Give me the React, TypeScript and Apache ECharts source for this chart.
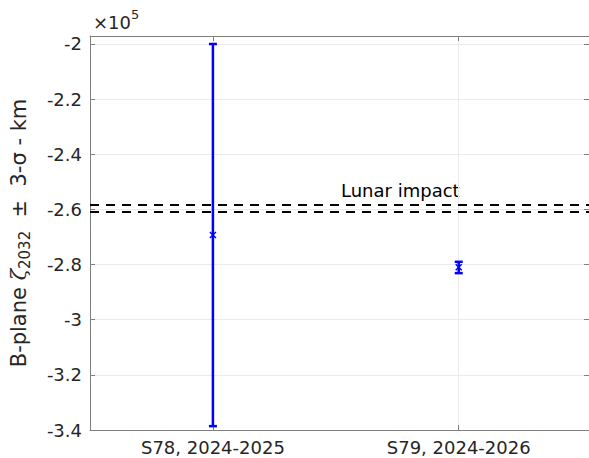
import React, { useEffect, useRef } from "react";
import * as echarts from "echarts";

const categories = ["S78, 2024-2025", "S79, 2024-2026"];
const centers = [-269300, -281000];
const lowers = [-338600, -283100];
const uppers = [-200000, -279000];
const impactLines = [-258200, -260700];
const yTicksMin = -340000;
const yTicksMax = -197100;
const yInterval = 20000;

const FONT = "DejaVu Sans";
const BLUE = "#0000ff";
const AXIS = "#808080";
const GRID = "#ebebeb";
const TXT = "#262626";

export default function App() {
  const ref = useRef<HTMLDivElement>(null);
  useEffect(() => {
    if (!ref.current) return;
    const chart = echarts.init(ref.current, undefined, { renderer: "svg" });
    const data = categories.map((c, i) => [i + 1, centers[i], lowers[i], uppers[i]]);
    const xCustom = categories.map((_, i) => i + 1);
    const yLabelFmt = (v: number) =>
      Math.abs(v % yInterval) > 1 ? "" : String(Number((v / 1e5).toFixed(1)));

    chart.setOption({
      animation: false,
      backgroundColor: "#ffffff",
      textStyle: { fontFamily: FONT },
      grid: { left: 90, right: 0, top: 36, bottom: 28 },
      xAxis: [
        {
          type: "value",
          min: 0.5,
          max: 2.53,
          axisLine: { show: true, lineStyle: { color: AXIS, width: 1 } },
          axisTick: { show: true, inside: true, length: 5, customValues: xCustom, lineStyle: { color: AXIS } },
          axisLabel: {
            customValues: xCustom,
            formatter: (v: number) => categories[Math.round(v) - 1] ?? "",
            color: TXT,
            fontSize: 18,
            fontFamily: FONT,
            margin: 8,
          },
          splitLine: { show: true, lineStyle: { color: GRID, width: 1 } },
        },
        {
          type: "value",
          position: "top",
          min: 0.5,
          max: 2.53,
          axisLine: { show: true, lineStyle: { color: AXIS, width: 1 } },
          axisTick: { show: true, inside: true, length: 5, customValues: xCustom, lineStyle: { color: AXIS } },
          axisLabel: { show: false },
          splitLine: { show: false },
        },
      ],
      yAxis: [
        {
          type: "value",
          min: yTicksMin,
          max: yTicksMax,
          interval: yInterval,
          axisLine: { show: true, lineStyle: { color: AXIS, width: 1 } },
          axisTick: { show: true, inside: true, length: 5, lineStyle: { color: AXIS } },
          axisLabel: { formatter: yLabelFmt, color: TXT, fontSize: 18, fontFamily: FONT, margin: 8, showMaxLabel: false },
          splitLine: { show: true, lineStyle: { color: GRID, width: 1 } },
          name: "{a|B-plane }{z|ζ}{s|2032}{a|  ±  3-σ - km}",
          nameLocation: "middle",
          nameGap: 58,
          nameTextStyle: {
            color: TXT,
            fontFamily: FONT,
            rich: {
              a: { fontSize: 21, fontFamily: FONT, color: TXT },
              z: { fontSize: 21, fontFamily: "DejaVu Serif", fontStyle: "italic", color: TXT },
              s: { fontSize: 15, fontFamily: FONT, color: TXT, padding: [12, 0, 0, 0] },
            },
          },
        },
        {
          type: "value",
          position: "right",
          min: yTicksMin,
          max: yTicksMax,
          interval: yInterval,
          axisLine: { show: true, lineStyle: { color: AXIS, width: 1 } },
          axisTick: { show: true, inside: true, length: 5, lineStyle: { color: AXIS } },
          axisLabel: { show: false },
          splitLine: { show: false },
        },
      ],
      graphic: [
        {
          type: "text",
          left: 93,
          top: 8,
          style: {
            text: "{a|×10}{b|5}",
            fill: TXT,
            rich: {
              a: { fontSize: 18, fontFamily: FONT, fill: TXT, padding: [6, 0, 0, 0] },
              b: { fontSize: 13, fontFamily: FONT, fill: TXT, padding: [0, 0, 10, 0] },
            },
          },
        },
        {
          type: "text",
          left: 341,
          top: 181,
          style: { text: "Lunar impact", fontSize: 18, fontFamily: FONT, fill: "#000" },
        },
      ],
      series: [
        {
          type: "line",
          data: [],
          xAxisIndex: 0,
          yAxisIndex: 0,
          markLine: {
            silent: true,
            symbol: "none",
            label: { show: false },
            lineStyle: { color: "#000", type: [9, 7], width: 2 },
            data: impactLines.map((v) => ({ yAxis: v })),
          },
        },
        {
          type: "custom",
          xAxisIndex: 0,
          yAxisIndex: 0,
          data,
          encode: { x: 0, y: [1, 2, 3] },
          renderItem: (params: any, api: any) => {
            const x = api.value(0);
            const pc = api.coord([x, api.value(1)]);
            const pl = api.coord([x, api.value(2)]);
            const ph = api.coord([x, api.value(3)]);
            const hw = 4;
            const m = 3;
            const st = { stroke: BLUE, lineWidth: 2.5 };
            return {
              type: "group",
              children: [
                { type: "line", shape: { x1: pl[0], y1: pl[1], x2: ph[0], y2: ph[1] }, style: st },
                { type: "line", shape: { x1: pl[0] - hw, y1: pl[1], x2: pl[0] + hw, y2: pl[1] }, style: st },
                { type: "line", shape: { x1: ph[0] - hw, y1: ph[1], x2: ph[0] + hw, y2: ph[1] }, style: st },
                { type: "line", shape: { x1: pc[0] - m, y1: pc[1] - m, x2: pc[0] + m, y2: pc[1] + m }, style: { stroke: BLUE, lineWidth: 1.5 } },
                { type: "line", shape: { x1: pc[0] - m, y1: pc[1] + m, x2: pc[0] + m, y2: pc[1] - m }, style: { stroke: BLUE, lineWidth: 1.5 } },
              ],
            };
          },
        },
      ],
    });
    return () => chart.dispose();
  }, []);
  return (
    <div
      ref={ref}
      style={{ position: "absolute", left: 0, top: 0, width: 589, height: 458 }}
    />
  );
}
